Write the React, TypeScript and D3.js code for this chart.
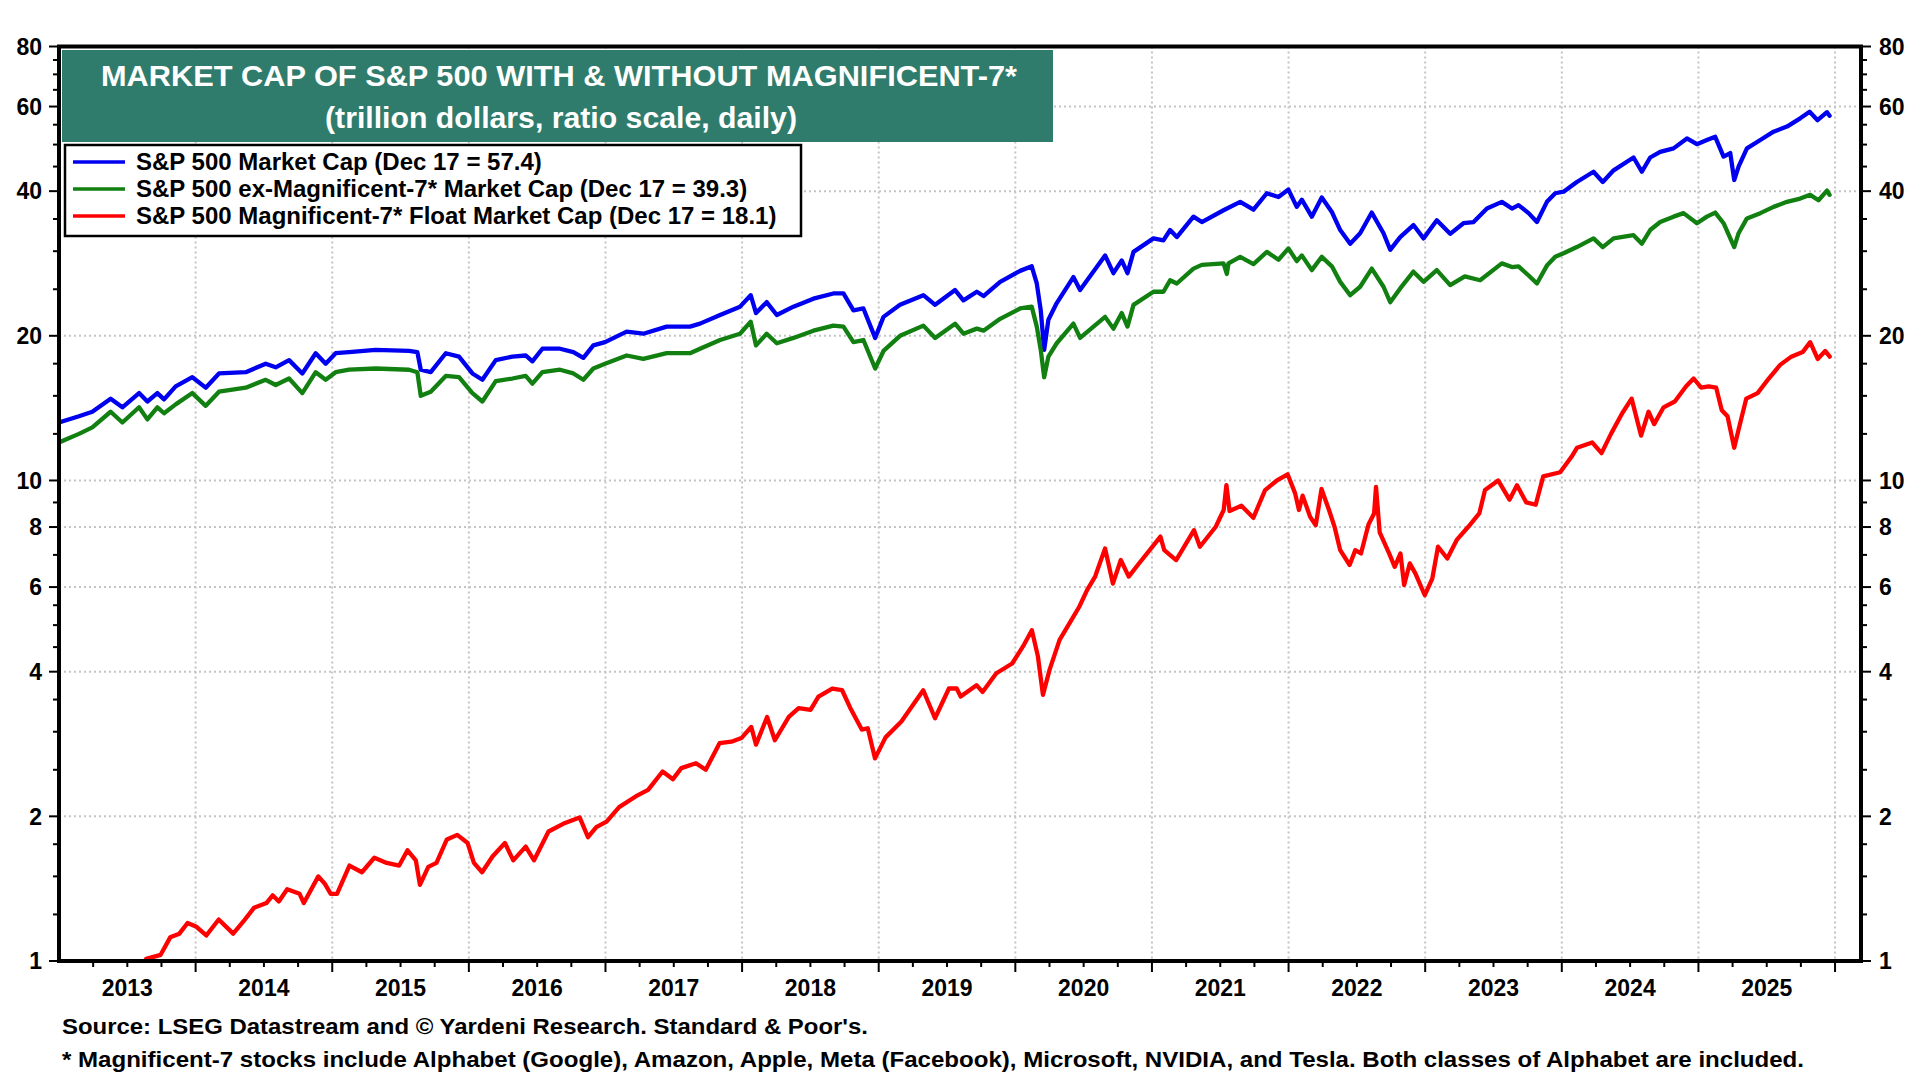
import React from "react";
import * as d3 from "d3";

// ---------- DATA ----------
const spxDates = [
  2013.0, 2013.146, 2013.244, 2013.378, 2013.464, 2013.586, 2013.647, 2013.72, 2013.769, 2013.854, 2013.976,
  2014.074, 2014.171, 2014.367, 2014.513, 2014.586, 2014.684, 2014.781, 2014.879, 2014.952,
  2015.025, 2015.123, 2015.318, 2015.562, 2015.623, 2015.648, 2015.721, 2015.831, 2015.928,
  2016.026, 2016.099, 2016.197, 2016.319, 2016.416, 2016.465, 2016.538, 2016.667, 2016.765, 2016.838, 2016.911, 2016.997,
  2017.155, 2017.277, 2017.448, 2017.619, 2017.692, 2017.839, 2017.985,
  2018.063, 2018.102, 2018.18, 2018.254, 2018.376, 2018.522, 2018.668, 2018.742, 2018.815, 2018.888, 2018.974,
  2019.035, 2019.156, 2019.327, 2019.413, 2019.559, 2019.62, 2019.718, 2019.767, 2019.889,
  2020.035, 2020.12, 2020.157, 2020.186, 2020.211, 2020.242, 2020.303, 2020.425, 2020.474, 2020.657, 2020.718, 2020.779, 2020.821, 2020.865,
  2021.011, 2021.084, 2021.133, 2021.182, 2021.304, 2021.365, 2021.524, 2021.646, 2021.743, 2021.841, 2021.926, 2021.999,
  2022.06, 2022.097, 2022.17, 2022.243, 2022.317, 2022.378, 2022.451, 2022.524, 2022.609, 2022.695, 2022.744, 2022.817, 2022.914, 2022.988,
  2023.085, 2023.183, 2023.28, 2023.354, 2023.452, 2023.561, 2023.635, 2023.683, 2023.757, 2023.818, 2023.891, 2023.952,
  2024.013, 2024.11, 2024.232, 2024.3, 2024.379, 2024.525, 2024.586, 2024.647, 2024.72, 2024.818, 2024.916, 2024.989,
  2025.062, 2025.123, 2025.184, 2025.233, 2025.262, 2025.294, 2025.355, 2025.453, 2025.55, 2025.648, 2025.745, 2025.814, 2025.872, 2025.941, 2025.96,
];
const spxValues = [
  13.2, 13.6, 13.9, 14.8, 14.2, 15.2, 14.6, 15.2, 14.75, 15.7, 16.4,
  15.6, 16.7, 16.8, 17.5, 17.2, 17.8, 16.7, 18.4, 17.5,
  18.4, 18.5, 18.7, 18.6, 18.5, 17.0, 16.8, 18.4, 18.1,
  16.7, 16.2, 17.8, 18.1, 18.2, 17.7, 18.8, 18.8, 18.5, 18.0, 19.1, 19.4,
  20.4, 20.2, 20.9, 20.9, 21.2, 22.1, 23.0,
  24.3, 22.3, 23.5, 22.1, 23.0, 23.9, 24.5, 24.5, 22.6, 22.8, 19.8,
  21.9, 23.2, 24.3, 23.2, 24.9, 23.7, 24.7, 24.2, 25.9,
  27.3, 27.9, 25.7, 22.6, 18.7, 21.6, 23.4, 26.5, 24.9, 29.4, 27.0, 28.7, 27.0, 29.9,
  31.9, 31.6, 33.2, 32.1, 35.4, 34.5, 36.5, 38.0, 36.6, 39.6, 38.9, 40.3,
  37.1, 38.4, 35.4, 38.8, 36.2, 33.2, 31.1, 32.7, 36.1, 32.7, 30.2, 32.1, 34.0, 31.9,
  34.8, 32.6, 34.3, 34.5, 36.8, 38.0, 36.8, 37.4, 36.0, 34.5, 38.0, 39.6,
  39.9, 41.8, 43.9, 41.8, 44.2, 47.0, 43.9, 47.0, 48.3, 49.1, 51.5, 50.1,
  51.1, 51.9, 47.2, 48.0, 42.2, 45.0, 49.1, 51.1, 53.2, 54.5, 56.7, 58.5, 56.2, 58.4, 57.4,
];

const exDates = [
  2013.0, 2013.146, 2013.244, 2013.378, 2013.464, 2013.586, 2013.647, 2013.72, 2013.769, 2013.854, 2013.976,
  2014.074, 2014.171, 2014.367, 2014.513, 2014.586, 2014.684, 2014.781, 2014.879, 2014.952,
  2015.025, 2015.123, 2015.318, 2015.562, 2015.623, 2015.648, 2015.721, 2015.831, 2015.928,
  2016.026, 2016.099, 2016.197, 2016.319, 2016.416, 2016.465, 2016.538, 2016.667, 2016.765, 2016.838, 2016.911, 2016.997,
  2017.155, 2017.277, 2017.448, 2017.619, 2017.692, 2017.839, 2017.985,
  2018.063, 2018.102, 2018.18, 2018.254, 2018.376, 2018.522, 2018.668, 2018.742, 2018.815, 2018.888, 2018.974,
  2019.035, 2019.156, 2019.327, 2019.413, 2019.559, 2019.62, 2019.718, 2019.767, 2019.889,
  2020.035, 2020.12, 2020.157, 2020.186, 2020.211, 2020.242, 2020.303, 2020.425, 2020.474, 2020.657, 2020.718, 2020.779, 2020.821, 2020.865,
  2021.011, 2021.084, 2021.133, 2021.182, 2021.304, 2021.365, 2021.524, 2021.548, 2021.56, 2021.646, 2021.743, 2021.841, 2021.926, 2021.999,
  2022.06, 2022.097, 2022.17, 2022.243, 2022.317, 2022.378, 2022.451, 2022.524, 2022.609, 2022.695, 2022.744, 2022.817, 2022.914, 2022.988,
  2023.085, 2023.183, 2023.29, 2023.402, 2023.561, 2023.635, 2023.683, 2023.757, 2023.818, 2023.891, 2023.952,
  2024.013, 2024.11, 2024.232, 2024.3, 2024.379, 2024.525, 2024.586, 2024.647, 2024.72, 2024.818, 2024.891, 2024.989,
  2025.062, 2025.123, 2025.184, 2025.262, 2025.294, 2025.355, 2025.453, 2025.55, 2025.648, 2025.745, 2025.818, 2025.879, 2025.941, 2025.96,
];
const exValues = [
  12.0, 12.5, 12.9, 13.9, 13.2, 14.2, 13.4, 14.2, 13.8, 14.4, 15.2,
  14.3, 15.3, 15.6, 16.2, 15.8, 16.3, 15.2, 16.8, 16.2,
  16.8, 17.0, 17.1, 17.0, 16.8, 15.0, 15.3, 16.5, 16.4,
  15.2, 14.6, 16.1, 16.3, 16.5, 15.9, 16.8, 17.0, 16.7, 16.2, 17.1, 17.5,
  18.2, 17.9, 18.4, 18.4, 18.8, 19.6, 20.2,
  21.4, 19.1, 20.2, 19.3, 19.8, 20.5, 21.0, 20.9, 19.4, 19.6, 17.1,
  18.6, 20.0, 21.0, 19.8, 21.2, 20.2, 20.7, 20.5, 21.7,
  22.8, 23.0, 20.9, 18.7, 16.4, 18.1, 19.3, 21.2, 19.8, 21.9, 20.7, 22.3, 20.9, 23.2,
  24.7, 24.7, 26.1, 25.7, 27.6, 28.1, 28.3, 26.9, 28.3, 29.2, 28.2, 29.9, 28.8, 30.4,
  28.6, 29.4, 27.4, 29.2, 27.9, 25.9, 24.3, 25.3, 27.6, 25.3, 23.5, 25.1, 27.2, 25.9,
  27.4, 25.5, 26.6, 26.1, 28.3, 27.8, 27.9, 26.7, 25.7, 28.0, 29.2,
  29.7, 30.6, 31.9, 30.6, 31.9, 32.4, 31.1, 33.2, 34.5, 35.4, 36.0, 34.3,
  35.4, 36.1, 34.3, 30.6, 32.7, 35.1, 36.0, 37.1, 38.0, 38.6, 39.3, 38.3, 40.1, 39.3,
];

const mag7Dates = [
  2013.62, 2013.638, 2013.744, 2013.814, 2013.881, 2013.941, 2014.002, 2014.078, 2014.169, 2014.275, 2014.351, 2014.427,
  2014.518, 2014.564, 2014.609, 2014.67, 2014.761, 2014.792, 2014.898, 2014.944, 2014.989,
  2015.035, 2015.126, 2015.217, 2015.308, 2015.399, 2015.49, 2015.551, 2015.612, 2015.642, 2015.703, 2015.763, 2015.839, 2015.915, 2015.991,
  2016.037, 2016.097, 2016.173, 2016.264, 2016.325, 2016.416, 2016.477, 2016.583, 2016.69, 2016.811, 2016.872, 2016.933,
  2017.008, 2017.1, 2017.221, 2017.312, 2017.418, 2017.494, 2017.555, 2017.662, 2017.734, 2017.835, 2017.922, 2017.995,
  2018.067, 2018.102, 2018.183, 2018.24, 2018.342, 2018.414, 2018.501, 2018.559, 2018.66, 2018.732, 2018.79, 2018.877, 2018.92, 2018.973,
  2019.05, 2019.166, 2019.326, 2019.412, 2019.514, 2019.571, 2019.6, 2019.716, 2019.76, 2019.861, 2019.977,
  2020.063, 2020.121, 2020.165, 2020.202, 2020.251, 2020.324, 2020.41, 2020.468, 2020.526, 2020.584, 2020.657, 2020.714, 2020.772, 2020.83, 2020.902,
  2021.004, 2021.062, 2021.09, 2021.177, 2021.221, 2021.308, 2021.351, 2021.467, 2021.525, 2021.545, 2021.568, 2021.655, 2021.742, 2021.828, 2021.915, 2021.993,
  2022.048, 2022.076, 2022.103, 2022.158, 2022.199, 2022.241, 2022.296, 2022.337, 2022.378, 2022.447, 2022.488, 2022.53, 2022.585, 2022.626, 2022.64, 2022.667,
  2022.736, 2022.777, 2022.819, 2022.846, 2022.887, 2022.929, 2022.997,
  2023.052, 2023.094, 2023.162, 2023.231, 2023.314, 2023.396, 2023.438, 2023.534, 2023.617, 2023.672, 2023.74, 2023.809, 2023.864, 2023.988,
  2024.071, 2024.112, 2024.222, 2024.291, 2024.36, 2024.442, 2024.511, 2024.58, 2024.635, 2024.676, 2024.745, 2024.827, 2024.91, 2024.965,
  2025.02, 2025.075, 2025.13, 2025.171, 2025.213, 2025.262, 2025.295, 2025.35, 2025.433, 2025.515, 2025.598, 2025.68, 2025.763, 2025.818, 2025.873, 2025.928, 2025.961,
];
const mag7Values = [
  0.97, 1.01, 1.03, 1.12, 1.14, 1.2, 1.18, 1.13, 1.22, 1.14, 1.21, 1.29,
  1.32, 1.37, 1.33, 1.41, 1.38, 1.32, 1.5, 1.45, 1.38,
  1.38, 1.58, 1.53, 1.64, 1.6, 1.58, 1.7, 1.62, 1.44, 1.57, 1.6, 1.79, 1.83, 1.76,
  1.6, 1.53, 1.65, 1.76, 1.62, 1.73, 1.62, 1.86, 1.93, 1.99, 1.81, 1.9,
  1.95, 2.09, 2.2, 2.27, 2.48, 2.39, 2.52, 2.58, 2.5, 2.84, 2.86, 2.91,
  3.07, 2.82, 3.22, 2.88, 3.22, 3.36, 3.33, 3.55, 3.69, 3.66, 3.37, 3.03, 3.05, 2.64,
  2.92, 3.15, 3.66, 3.2, 3.69, 3.69, 3.55, 3.75, 3.63, 3.97, 4.16,
  4.55, 4.88, 4.31, 3.58, 4.04, 4.66, 5.12, 5.46, 5.92, 6.31, 7.22, 6.1, 6.83, 6.31, 6.7,
  7.28, 7.64, 7.16, 6.83, 7.16, 7.88, 7.28, 8.01, 8.68, 9.78, 8.64, 8.86, 8.36, 9.55, 10.0, 10.3,
  9.4, 8.68, 9.3, 8.4, 8.07, 9.6, 8.68, 8.0, 7.16, 6.67, 7.16, 7.05, 8.1, 8.54, 9.7, 7.8,
  7.05, 6.61, 7.05, 6.06, 6.72, 6.4, 5.77,
  6.25, 7.28, 6.88, 7.52, 8.0, 8.54, 9.55, 10.0, 9.12, 9.77, 9.0, 8.9, 10.2, 10.4,
  11.2, 11.7, 12.0, 11.4, 12.5, 13.8, 14.8, 12.4, 13.9, 13.1, 14.2, 14.6, 15.7, 16.3,
  15.6, 15.7, 15.6, 14.0, 13.6, 11.7, 12.8, 14.8, 15.2, 16.3, 17.4, 18.1, 18.5, 19.4, 17.9, 18.6, 18.1,
];

const yLabels = [1, 2, 4, 6, 8, 10, 20, 40, 60, 80];
const yGrid = [2, 4, 6, 8, 10, 20, 40, 60];
const yMinor = [1.25, 1.5, 1.75, 2.5, 3, 3.5, 4.5, 5, 5.5, 7, 9, 12.5, 15, 17.5, 25, 30, 35, 45, 50, 55, 65, 70, 75];
const years = [2013, 2014, 2015, 2016, 2017, 2018, 2019, 2020, 2021, 2022, 2023, 2024, 2025];

const titleLines = ["MARKET CAP OF S&P 500 WITH & WITHOUT MAGNIFICENT-7*", "(trillion dollars, ratio scale, daily)"];
const legendLabels = [
  "S&P 500 Market Cap (Dec 17 = 57.4)",
  "S&P 500 ex-Magnificent-7* Market Cap (Dec 17 = 39.3)",
  "S&P 500 Magnificent-7* Float Market Cap (Dec 17 = 18.1)",
];
const sourceText = "Source: LSEG Datastream and \u00A9 Yardeni Research. Standard & Poor's.";
const noteText =
  "* Magnificent-7 stocks include Alphabet (Google), Amazon, Apple, Meta (Facebook), Microsoft, NVIDIA, and Tesla. Both classes of Alphabet are included.";

// ---------- LAYOUT ----------
const W = 1920;
const H = 1080;
const L = 59;
const R = 1861;
const T = 46.5;
const B = 961;
const FONT = "'Liberation Sans', Arial, Helvetica, sans-serif";
const BLUE = "#0000f0";
const GREEN = "#118011";
const RED = "#ff0000";

export default function App() {
  const x = d3.scaleLinear().domain([2013, 2026.19]).range([L, R]);
  const y = d3.scaleLog().domain([1, 80]).range([B, T]);

  const line = d3
    .line<[number, number]>()
    .x((d) => x(d[0]))
    .y((d) => y(d[1]));

  const mk = (ds: number[], vs: number[]) => line(ds.map((d, i) => [d, vs[i]] as [number, number])) || "";

  const series = [
    { d: mk(spxDates, spxValues), c: BLUE },
    { d: mk(exDates, exValues), c: GREEN },
    { d: mk(mag7Dates, mag7Values), c: RED },
  ];

  const quarters: number[] = [];
  for (const yr of years) for (const q of [0.25, 0.5, 0.75]) quarters.push(yr + q);

  const legendColors = [BLUE, GREEN, RED];
  const legendY = [162, 189, 216];

  return (
    <svg
      width={W}
      height={H}
      viewBox={`0 0 ${W} ${H}`}
      style={{ position: "fixed", left: 0, top: 0, background: "#fff" }}
      fontFamily={FONT}
    >
      <rect x={0} y={0} width={W} height={H} fill="#fff" />
      <defs>
        <clipPath id="plot">
          <rect x={L} y={T} width={R - L} height={B - T} />
        </clipPath>
      </defs>

      {/* grid */}
      <g stroke="#c4c4c4" strokeWidth={2} strokeDasharray="2 3">
        {yGrid.map((v) => (
          <line key={"gy" + v} x1={L} x2={R} y1={y(v)} y2={y(v)} />
        ))}
        {years.slice(1).concat([2026]).map((yr) => (
          <line key={"gx" + yr} x1={x(yr)} x2={x(yr)} y1={T} y2={B} />
        ))}
      </g>

      {/* data */}
      <g clipPath="url(#plot)" fill="none" strokeWidth={4.3} strokeLinejoin="round" strokeLinecap="round">
        {series.map((s, i) => (
          <path key={i} d={s.d} stroke={s.c} />
        ))}
      </g>

      {/* title box */}
      <rect x={62} y={50} width={991} height={92} fill="#2f7c6c" />
      <text x={559} y={86} fill="#fff" fontSize={30} fontWeight="bold" textAnchor="middle" textLength={916} lengthAdjust="spacingAndGlyphs">
        {titleLines[0]}
      </text>
      <text x={561} y={128} fill="#fff" fontSize={30} fontWeight="bold" textAnchor="middle" textLength={472} lengthAdjust="spacingAndGlyphs">
        {titleLines[1]}
      </text>

      {/* legend */}
      <rect x={65} y={145} width={736} height={91} fill="#fff" stroke="#000" strokeWidth={2.5} />
      {legendLabels.map((lab, i) => (
        <g key={"lg" + i}>
          <line x1={73} x2={125} y1={legendY[i]} y2={legendY[i]} stroke={legendColors[i]} strokeWidth={3.5} />
          <text x={136} y={legendY[i] + 8} fontSize={24} fontWeight="bold" fill="#000">
            {lab}
          </text>
        </g>
      ))}

      {/* frame */}
      <rect x={L} y={T} width={R - L} height={B - T} fill="none" stroke="#000" strokeWidth={4} />

      {/* y ticks */}
      <g stroke="#000" strokeWidth={2}>
        {yLabels.map((v) => (
          <g key={"yt" + v}>
            <line x1={L - 10} x2={L} y1={y(v)} y2={y(v)} />
            <line x1={R} x2={R + 10} y1={y(v)} y2={y(v)} />
          </g>
        ))}
        {yMinor.map((v) => (
          <g key={"ym" + v}>
            <line x1={L - 6} x2={L} y1={y(v)} y2={y(v)} />
            <line x1={R} x2={R + 6} y1={y(v)} y2={y(v)} />
          </g>
        ))}
      </g>
      <g fontSize={23} fontWeight="bold" fill="#000">
        {yLabels.map((v) => (
          <g key={"yl" + v}>
            <text x={42} y={y(v)} dy="0.36em" textAnchor="end">
              {v}
            </text>
            <text x={1879} y={y(v)} dy="0.36em" textAnchor="start">
              {v}
            </text>
          </g>
        ))}
      </g>

      {/* x ticks */}
      <g stroke="#000" strokeWidth={2}>
        {years.slice(1).concat([2026]).map((yr) => (
          <line key={"xt" + yr} x1={x(yr)} x2={x(yr)} y1={B} y2={B + 11} />
        ))}
        {quarters.map((q) => (
          <line key={"xq" + q} x1={x(q)} x2={x(q)} y1={B} y2={B + 6} />
        ))}
      </g>
      <g fontSize={23} fontWeight="bold" fill="#000">
        {years.map((yr) => (
          <text key={"xl" + yr} x={x(yr + 0.5)} y={996} textAnchor="middle">
            {yr}
          </text>
        ))}
      </g>

      {/* footer */}
      <text x={62} y={1034} fontSize={22} fontWeight="bold" fill="#000" textLength={806} lengthAdjust="spacingAndGlyphs">
        {sourceText}
      </text>
      <text x={62} y={1067} fontSize={22} fontWeight="bold" fill="#000" textLength={1742} lengthAdjust="spacingAndGlyphs">
        {noteText}
      </text>
    </svg>
  );
}
